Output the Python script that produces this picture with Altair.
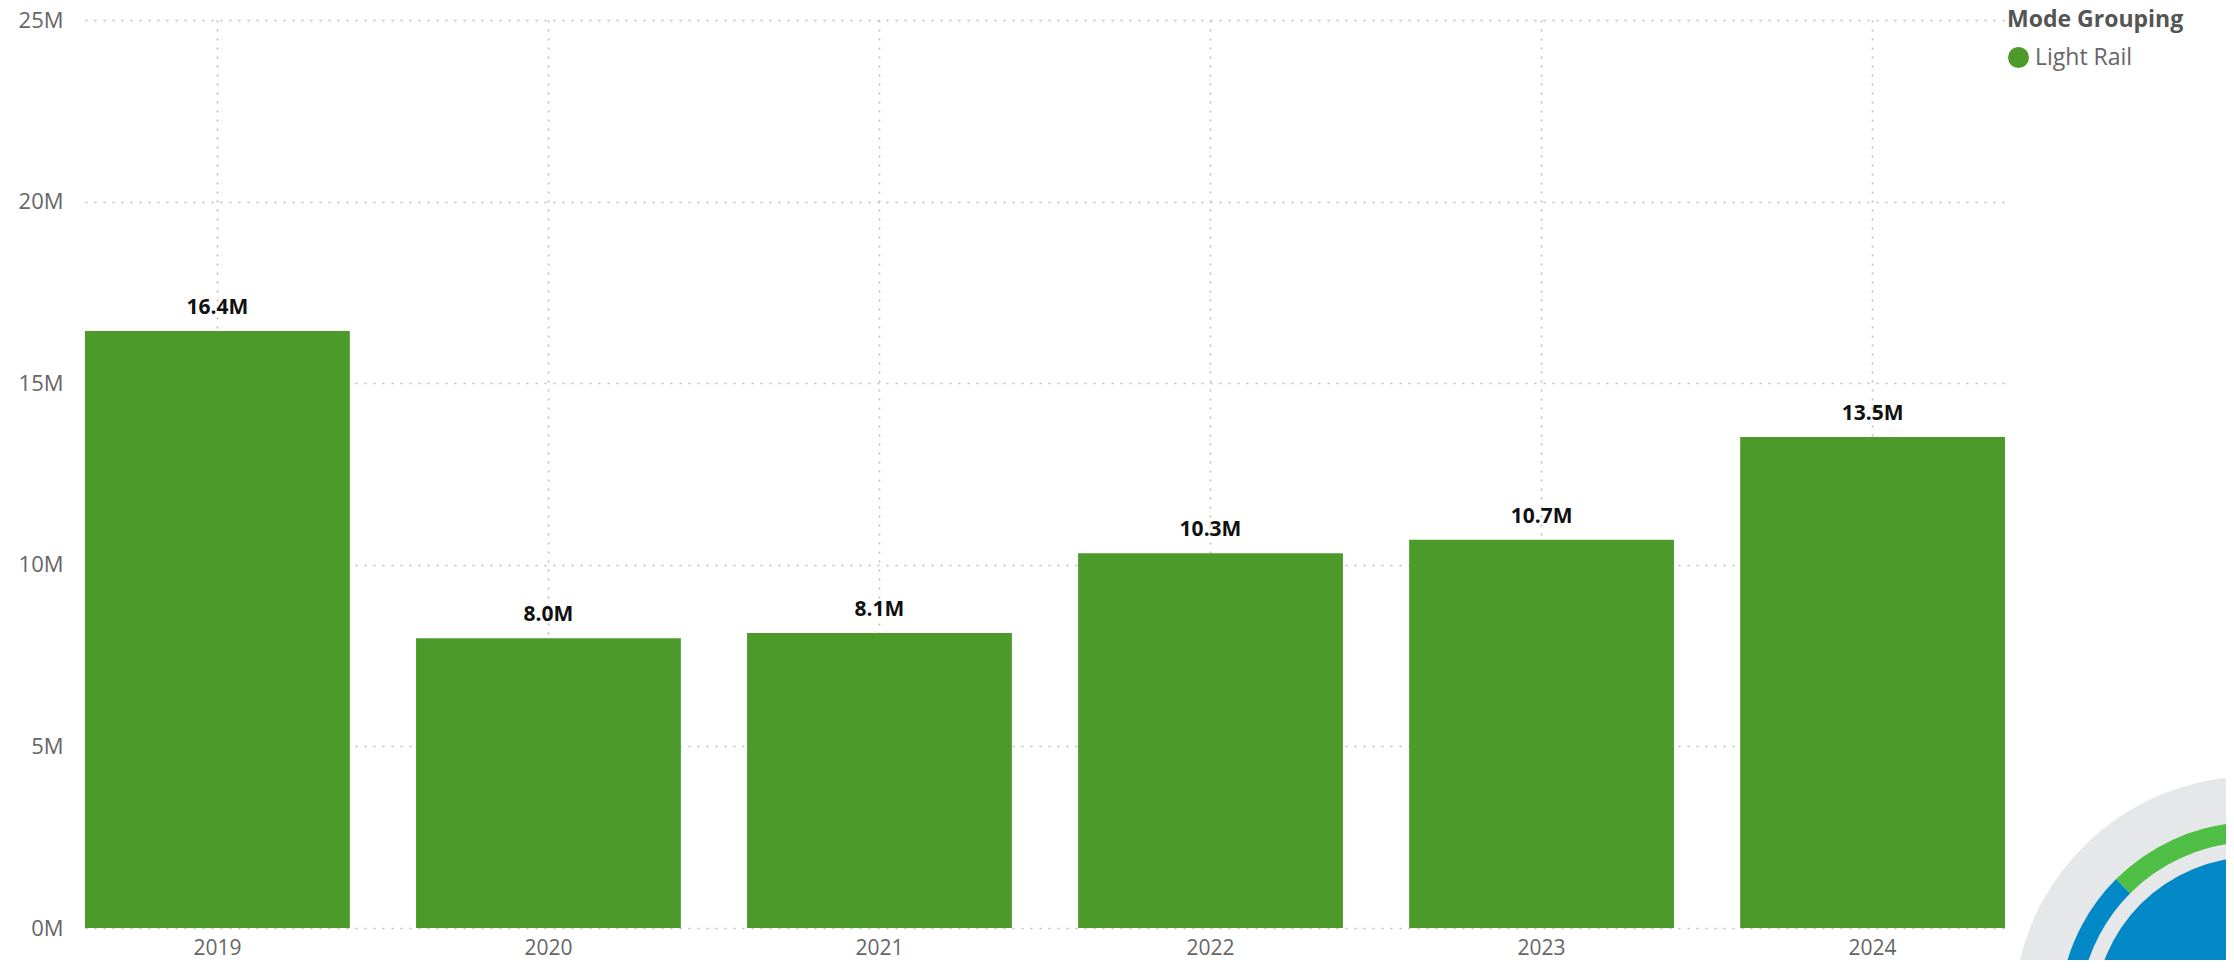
import altair as alt
import pandas as pd

# ---- data ----
years = ["2019", "2020", "2021", "2022", "2023", "2024"]
riders = [16.44e6, 7.98e6, 8.12e6, 10.32e6, 10.69e6, 13.52e6]
modes = ["Light Rail"] * 6
y_ticks = [0, 5e6, 10e6, 15e6, 20e6, 25e6]

# decorative gauge visual peeking in at the bottom-right corner
ring_names = ["Other", "Light Rail"]
ring_start = [3.1416, 5.4978]
ring_end = [5.4978, 6.9]

FONT = "Segoe UI, Open Sans, sans-serif"
BAR_GREEN = "#4C9A2A"
GRID = "#bdbdbd"

df = pd.DataFrame({"year": years, "riders": riders, "mode": modes})

x_enc = alt.X(
    "year:N",
    sort=None,
    scale=alt.Scale(paddingInner=0.2, paddingOuter=0),
    axis=alt.Axis(
        title=None, labelAngle=0, labelFontSize=21, labelColor="#666666",
        labelFont=FONT, labelPadding=9, domain=False, ticks=False,
        grid=True, gridDash=[2, 7], gridColor=GRID, gridWidth=1.6,
        bandPosition=0.5, tickExtra=False,
    ),
)
y_enc = alt.Y(
    "riders:Q",
    scale=alt.Scale(domain=[0, 25e6], nice=False),
    axis=alt.Axis(
        title=None, values=y_ticks, labelExpr="(datum.value / 1000000) + 'M'",
        labelFontSize=22, labelColor="#666666", labelFont=FONT,
        labelPadding=22, domain=False, ticks=False,
        grid=True, gridDash=[2, 7], gridColor=GRID, gridWidth=1.6,
    ),
)

base = alt.Chart(df).encode(x=x_enc, y=y_enc)

bars = base.mark_bar(color=BAR_GREEN).encode(
    color=alt.Color(
        "mode:N",
        scale=alt.Scale(domain=["Light Rail"], range=[BAR_GREEN]),
        legend=alt.Legend(
            title="Mode Grouping", orient="none", legendX=1922, legendY=-11,
            titleFont=FONT, titleFontSize=23, titleFontWeight="bold",
            titleColor="#555555", titlePadding=14,
            labelFont=FONT, labelFontSize=23, labelColor="#666666",
            labelOffset=5, symbolType="circle", symbolSize=440,
            symbolStrokeWidth=0, padding=0,
        ),
    ),
)

labels = base.transform_calculate(
    lab="format(datum.riders / 1000000, '.1f') + 'M'"
).mark_text(
    font=FONT, fontSize=21, fontWeight="bold", color="#111111",
    baseline="alphabetic", dy=-17,
).encode(text="lab:N")

# gauge decoration
disc = alt.Chart(pd.DataFrame({"t0": [0.0], "t1": [6.2832]})).mark_arc(
    radius=241, radius2=0, color="#E6E7E8"
).encode(
    x=alt.value(2169), y=alt.value(997),
    theta=alt.Theta("t0:Q", scale=None), theta2="t1:Q",
)
ring = alt.Chart(
    pd.DataFrame({"name": ring_names, "t0": ring_start, "t1": ring_end})
).mark_arc(radius=195, radius2=175).encode(
    x=alt.value(2169), y=alt.value(997),
    theta=alt.Theta("t0:Q", scale=None), theta2="t1:Q",
    color=alt.Color("name:N", scale=alt.Scale(domain=ring_names, range=["#0288C6", "#4EBF44"]), legend=None),
)
core = alt.Chart(pd.DataFrame({"t0": [0.0], "t1": [6.2832]})).mark_arc(
    radius=160, radius2=0, color="#0288C6"
).encode(
    x=alt.value(2169), y=alt.value(997),
    theta=alt.Theta("t0:Q", scale=None), theta2="t1:Q",
)

chart = alt.layer(bars, labels, disc, ring, core).resolve_scale(color="independent").properties(
    width=1920,
    height=908,
    autosize=alt.AutoSizeParams(type="none"),
    padding={"left": 77, "top": 12, "right": 221, "bottom": 32},
).configure(font=FONT).configure_view(stroke="transparent", strokeWidth=0)

chart.save("out.html", embed_options={"renderer": "svg", "actions": False})
